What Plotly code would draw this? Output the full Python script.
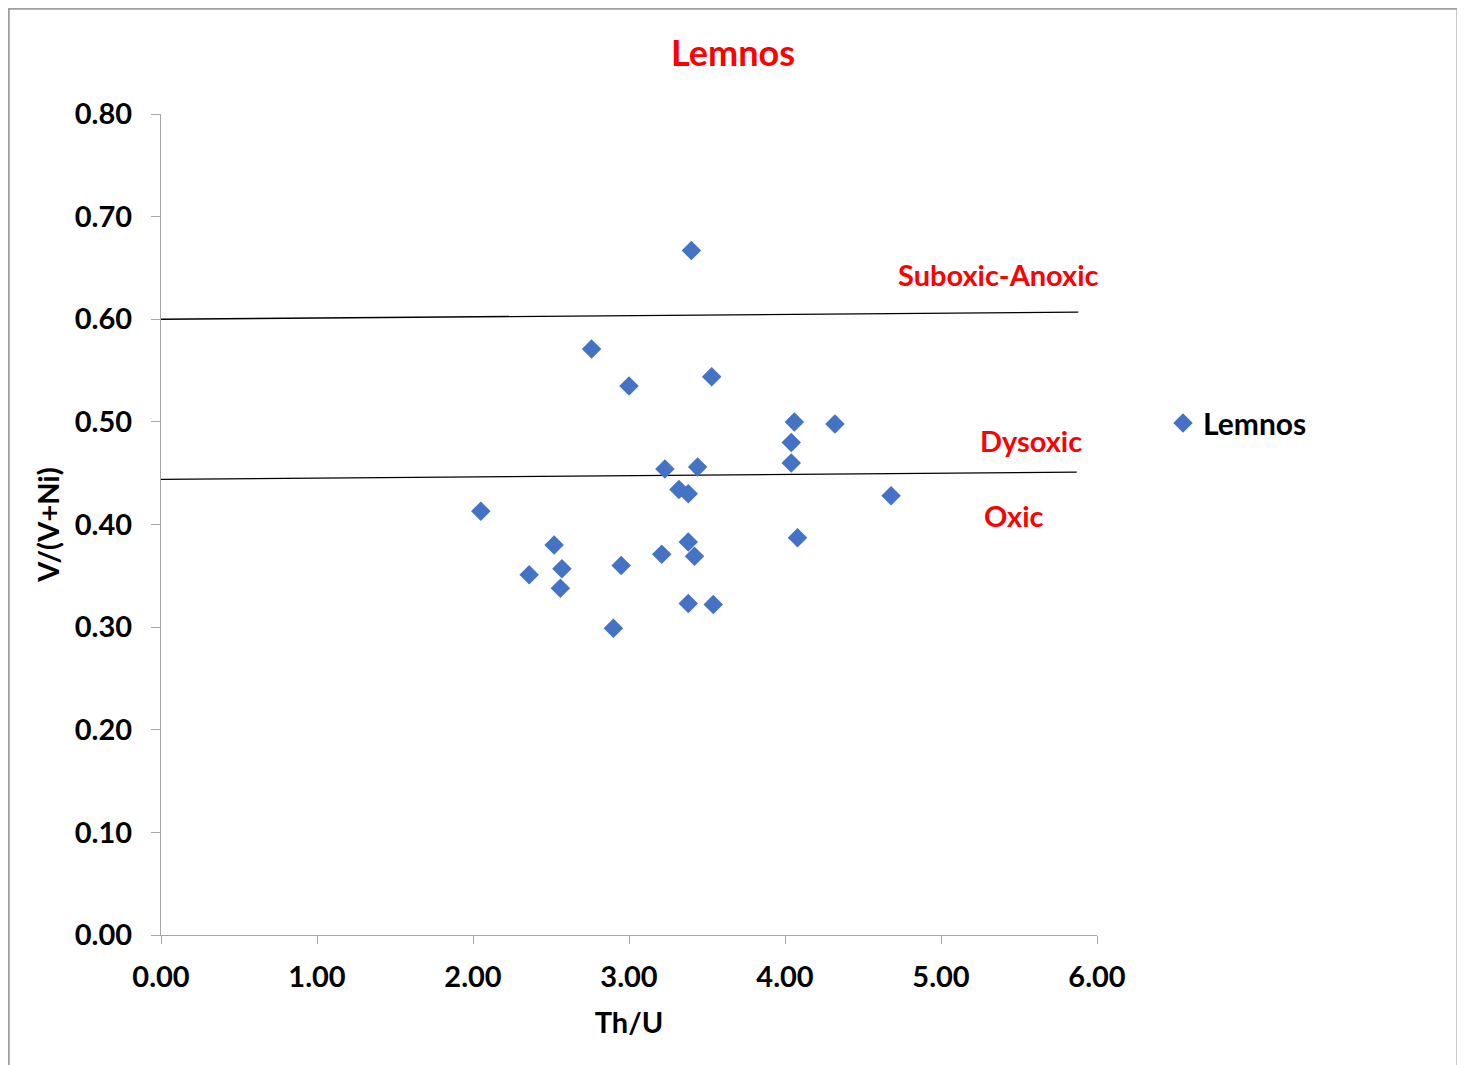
import plotly.graph_objects as go

# Data: Th/U vs V/(V+Ni) for Lemnos samples
th_u = [3.40, 2.76, 3.00, 3.53, 4.06, 4.32, 4.04, 4.04, 3.23, 3.44, 3.32, 3.38,
        4.68, 2.05, 2.52, 3.38, 4.08, 3.21, 3.42, 2.57, 2.95, 2.36, 2.56, 3.38,
        3.54, 2.90]
v_vni = [0.667, 0.571, 0.535, 0.544, 0.500, 0.498, 0.480, 0.460, 0.454, 0.456,
         0.434, 0.430, 0.428, 0.413, 0.380, 0.383, 0.387, 0.371, 0.369, 0.357,
         0.360, 0.351, 0.338, 0.323, 0.322, 0.299]

# Boundary lines
upper_x = [0.0, 5.88]
upper_y = [0.600, 0.607]
lower_x = [0.0, 5.87]
lower_y = [0.444, 0.451]

zone_labels = ["Suboxic-Anoxic", "Dysoxic", "Oxic"]
zone_x = [5.37, 5.58, 5.47]
zone_y = [0.644, 0.482, 0.409]

x_ticks = [0, 1, 2, 3, 4, 5, 6]
y_ticks = [0.0, 0.1, 0.2, 0.3, 0.4, 0.5, 0.6, 0.7, 0.8]

FONT = "Lato"
AXIS_GRAY = "#A6A6A6"
W, H = 1457, 1057

fig = go.Figure()
fig.add_trace(go.Scatter(x=upper_x, y=upper_y, mode="lines",
                         line=dict(color="black", width=1.3), showlegend=False,
                         hoverinfo="skip"))
fig.add_trace(go.Scatter(x=lower_x, y=lower_y, mode="lines",
                         line=dict(color="black", width=1.3), showlegend=False,
                         hoverinfo="skip"))
fig.add_trace(go.Scatter(x=th_u, y=v_vni, mode="markers", name="Lemnos",
                         marker=dict(symbol="diamond", size=15, color="#4472C4")))

for t, x, y in zip(zone_labels, zone_x, zone_y):
    fig.add_annotation(x=x, y=y, text="<b>%s</b>" % t, showarrow=False,
                       font=dict(family=FONT, size=29, color="#FF0000"))

fig.add_shape(type="rect", xref="paper", yref="paper",
              x0=-0.1625, x1=1.385, y0=-0.3, y1=1.128,
              line=dict(color="#A0A0A0", width=1.8), layer="below")

fig.update_layout(
    width=W, height=H,
    margin=dict(l=153, r=368, t=106, b=130),
    paper_bgcolor="white", plot_bgcolor="white",
    title=dict(text="<b>Lemnos</b>", x=725 / W, xanchor="center",
               y=1 - 45 / H, yanchor="middle",
               font=dict(family=FONT, size=36, color="#FF0000")),
    font=dict(family=FONT, color="black"),
    showlegend=True,
    legend=dict(x=1.0705, xanchor="left", y=(935 - 423) / 821, yanchor="middle",
                font=dict(family=FONT, size=30, color="black", weight="bold"),
                bgcolor="rgba(0,0,0,0)"),
    xaxis=dict(range=[0, 6], tickvals=x_ticks, tickformat=".2f",
               showgrid=False, zeroline=False, showline=True, linecolor=AXIS_GRAY,
               linewidth=1.3, ticks="outside", ticklen=8, tickcolor=AXIS_GRAY,
               tickfont=dict(family=FONT, size=29, color="black", weight="bold"),
               ticklabelstandoff=8,
               title=dict(text="<b>Th/U</b>", font=dict(family=FONT, size=29),
                          standoff=20)),
    yaxis=dict(range=[0, 0.8], tickvals=y_ticks, tickformat=".2f",
               showgrid=False, zeroline=False, showline=True, linecolor=AXIS_GRAY,
               linewidth=1.3, ticks="outside", ticklen=9, tickcolor=AXIS_GRAY,
               tickfont=dict(family=FONT, size=29, color="black", weight="bold"),
               ticklabelstandoff=13,
               title=dict(text="<b>V/(V+Ni)</b>", font=dict(family=FONT, size=29),
                          standoff=6)),
)

fig.write_html("out.html")
